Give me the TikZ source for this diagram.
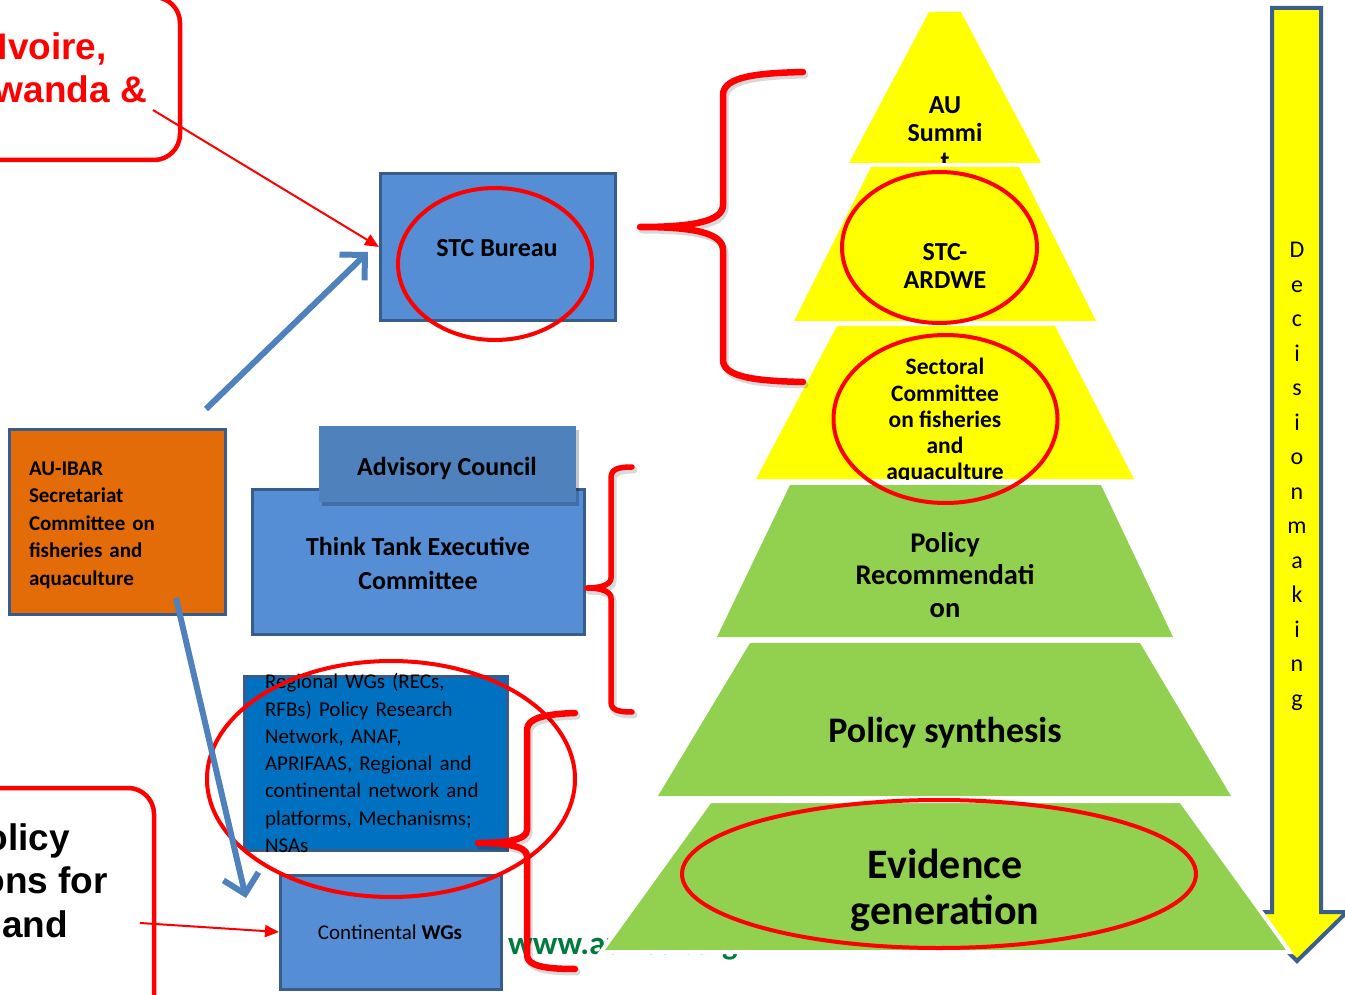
\documentclass[tikz,border=0pt]{standalone}
\usepackage{fontspec}
\setmainfont{Carlito}
\newfontfamily\arialfont{Liberation Sans}
\usetikzlibrary{arrows.meta}
\definecolor{boxblue}{RGB}{85,142,213}
\definecolor{boxedge}{RGB}{56,93,138}
\definecolor{advblue}{RGB}{79,129,189}
\definecolor{regblue}{RGB}{0,112,192}
\definecolor{aorange}{RGB}{227,108,9}
\definecolor{pyell}{RGB}{255,255,0}
\definecolor{pgreen}{RGB}{146,208,80}
\definecolor{ared}{RGB}{255,0,0}
\definecolor{arrblue}{RGB}{79,129,189}
\definecolor{wwwgreen}{RGB}{0,122,61}
\definecolor{decedge}{RGB}{59,94,140}
\tikzset{
  box/.style={draw=boxedge, line width=3pt, fill=boxblue, inner sep=0pt},
  redellipse/.style={draw=ared, line width=4pt},
  brace/.style={draw=ared, line width=6.5pt, line cap=round, line join=round},
  braceshadow/.style={draw=black, opacity=0.15, line width=7pt, line cap=round, line join=round},
  bluearrow/.style={draw=arrblue, line width=6pt, -{Straight Barb[length=18pt,width=36pt]}},
  redarrow/.style={draw=ared, line width=2pt, -{Triangle[length=14pt,width=12pt]}},
  callout/.style={draw=ared, line width=4.5pt, rounded corners=26pt, inner sep=0pt},
  callouttext/.style={anchor=base east, inner sep=0pt, font=\arialfont\bfseries\fontsize{37}{44}\selectfont},
  pyrtext/.style={align=center, inner sep=0pt},
  boxtext/.style={inner sep=0pt, text=black},
}
\begin{document}
\begin{tikzpicture}[x=1pt,y=-1pt]
\useasboundingbox (0,0) rectangle (1345,995);

% web address (mostly hidden behind the pyramid)
\node[anchor=base west, inner sep=0pt, text=wwwgreen, font=\bfseries\fontsize{33}{36}\selectfont] (www) at (508,954) {www.au-ibar.org};

% Decision making arrow
\draw[decedge, line width=4pt, fill=pyell, line join=miter] (1272,8) -- (1321,8) -- (1321,912) -- (1347,912) -- (1297,961) -- (1247,912) -- (1272,912) -- cycle;
\node[pyrtext, font=\fontsize{24}{34.5}\selectfont] (dm) at (1297,476.5) {D\\e\\c\\i\\s\\i\\o\\n\\m\\a\\k\\i\\n\\g};

% Pyramid
\begin{scope}
  \clip (929,12) -- (961,12) -- (1041,163) -- (849,163) -- cycle;
  \fill[pyell] (840,0) rectangle (1050,170);
  \node[pyrtext, font=\bfseries\fontsize{26}{28}\selectfont] (pA) at (945,133) {AU\\Summi\\t};
\end{scope}
\begin{scope}
  \clip (871,167) -- (1019,167) -- (1096,321) -- (794,321) -- cycle;
  \fill[pyell] (790,160) rectangle (1100,325);
  \node[pyrtext, font=\bfseries\fontsize{26}{28}\selectfont] (pB) at (945,266) {STC-\\ARDWE};
\end{scope}
\begin{scope}
  \clip (837,326) -- (1055,326) -- (1134,479) -- (756,479) -- cycle;
  \fill[pyell] (750,320) rectangle (1140,482);
  \node[pyrtext, font=\bfseries\fontsize{23.5}{26.3}\selectfont] (pC) at (945,421) {Sectoral\\Committee\\on fisheries\\and\\aquaculture};
\end{scope}
\begin{scope}
  \clip (790,485) -- (1101,485) -- (1173,637) -- (717,637) -- cycle;
  \fill[pgreen] (710,480) rectangle (1180,640);
  \node[pyrtext, font=\bfseries\fontsize{28.5}{32.5}\selectfont] (pD) at (945,575) {Policy\\Recommendati\\on};
\end{scope}
\begin{scope}
  \clip (750,643) -- (1140,643) -- (1231,796) -- (658,796) -- cycle;
  \fill[pgreen] (650,640) rectangle (1240,800);
  \node[pyrtext, font=\bfseries\fontsize{36}{40}\selectfont] (pE) at (945,733) {Policy synthesis};
\end{scope}
\fill[pgreen] (710,801) -- (1181,801) -- (1290,952) -- (601,952) -- cycle;
\draw[white, line width=4pt] (710,801) -- (1181,801) -- (1290,952) -- (601,952) -- cycle;
\node[pyrtext, font=\bfseries\fontsize{42}{46}\selectfont] (pF) at (945,890) {Evidence\\generation};

% ellipses on the pyramid
\draw[redellipse] (939.5,247.5) ellipse [x radius=97.5pt, y radius=75.5pt];
\draw[redellipse] (945.5,419) ellipse [x radius=112pt, y radius=84pt];
\draw[redellipse] (939,874) ellipse [x radius=257pt, y radius=74pt];

% brace 1
\draw[braceshadow, xshift=2pt, yshift=-3pt] (803,72) .. controls (760,73) and (723,76) .. (723,95) -- (723,205) .. controls (723,222) and (690,227) .. (640,227) .. controls (690,227) and (723,232) .. (723,250) -- (723,360) .. controls (723,378) and (760,381) .. (803,382);
\draw[brace] (803,72) .. controls (760,73) and (723,76) .. (723,95) -- (723,205) .. controls (723,222) and (690,227) .. (640,227) .. controls (690,227) and (723,232) .. (723,250) -- (723,360) .. controls (723,378) and (760,381) .. (803,382);

% boxes
\node[box, minimum width=235pt, minimum height=147pt] (stc) at (498,247) {};
\node[boxtext, font=\bfseries\fontsize{26}{30}\selectfont] (stct) at (497,248) {STC Bureau};

\node[box, minimum width=332pt, minimum height=145pt] (tt) at (418.5,562) {};
\node[boxtext, align=center, font=\bfseries\fontsize{26}{34}\selectfont] (ttt) at (418,563) {Think Tank Executive\\Committee};

\fill[black, opacity=0.22] (322,430) rectangle (579,506);
\node[fill=advblue, inner sep=0pt, minimum width=257pt, minimum height=76pt] (adv) at (447.5,464) {};
\node[boxtext, font=\bfseries\fontsize{26}{30}\selectfont] (advt) at (447,468) {Advisory Council};

\node[box, fill=aorange, minimum width=216pt, minimum height=185pt] (au) at (117.5,522) {};
\node[boxtext, align=left, text width=177pt, font=\bfseries\fontsize{21}{27.5}\selectfont] (aut) at (117.5,525) {AU-IBAR\\Secretariat\\Committee on\\fisheries and\\aquaculture};

\node[box, fill=regblue, minimum width=263pt, minimum height=174pt] (reg) at (376,763) {};
\node[boxtext, align=left, text width=222pt, font=\fontsize{21}{27.3}\selectfont] (regt) at (376,763) {Regional WGs (RECs,\\RFBs) Policy Research\\Network, ANAF,\\APRIFAAS, Regional and\\continental network and\\platforms, Mechanisms;\\NSAs};

\node[box, minimum width=221pt, minimum height=114pt] (cwg) at (391,932) {};
\node[boxtext, font=\fontsize{21}{25}\selectfont] (cwgt) at (390,932) {Continental \textbf{WGs}};

% ellipses on the boxes
\draw[redellipse] (495,264) ellipse [x radius=97pt, y radius=76pt];
\draw[redellipse] (391,779) ellipse [x radius=184pt, y radius=118pt];

% braces 2 and 3
\draw[braceshadow, xshift=2pt, yshift=-3pt] (632,467) .. controls (618,467) and (611,469) .. (611,478) -- (611,578) .. controls (611,585) and (600,588) .. (587,588) .. controls (600,588) and (611,591) .. (611,598) -- (611,702) .. controls (611,710) and (618,712) .. (632,712);
\draw[brace, line width=5.5pt] (632,467) .. controls (618,467) and (611,469) .. (611,478) -- (611,578) .. controls (611,585) and (600,588) .. (587,588) .. controls (600,588) and (611,591) .. (611,598) -- (611,702) .. controls (611,710) and (618,712) .. (632,712);
\draw[braceshadow, xshift=2pt, yshift=-3pt] (575,713) .. controls (545,714) and (527,718) .. (527,730) -- (527,830) .. controls (527,840) and (505,843) .. (478,843) .. controls (505,843) and (527,846) .. (527,856) -- (527,955) .. controls (527,966) and (545,969) .. (575,969);
\draw[brace] (575,713) .. controls (545,714) and (527,718) .. (527,730) -- (527,830) .. controls (527,840) and (505,843) .. (478,843) .. controls (505,843) and (527,846) .. (527,856) -- (527,955) .. controls (527,966) and (545,969) .. (575,969);

% blue arrows
\coordinate (a1s) at (206,409);
\coordinate (a1e) at (368,252);
\draw[bluearrow] (a1s) -- (a1e);
\coordinate (a2s) at (176,598);
\coordinate (a2e) at (246,898);
\draw[bluearrow] (a2s) -- (a2e);

% callouts
\node[callout, minimum width=380pt, minimum height=163pt] (c1) at (-10,78.5) {};
\node[callouttext, text=ared] (c1a) at (107,60) {Ivoire,};
\node[callouttext, text=ared] (c1b) at (147,103) {wanda \&};
\node[callout, minimum width=354pt, minimum height=320pt] (c2) at (-23,948) {};
\node[callouttext, text=black] (c2a) at (70,850) {olicy};
\node[callouttext, text=black] (c2b) at (108,893) {ons for};
\node[callouttext, text=black] (c2c) at (68,937) {and};

% red arrows
\coordinate (r1s) at (153,110);
\coordinate (r2s) at (140,923);
\draw[redarrow] (r1s) -- (stc.west);
\draw[redarrow] (r2s) -- (cwg.west);
\end{tikzpicture}
\end{document}
